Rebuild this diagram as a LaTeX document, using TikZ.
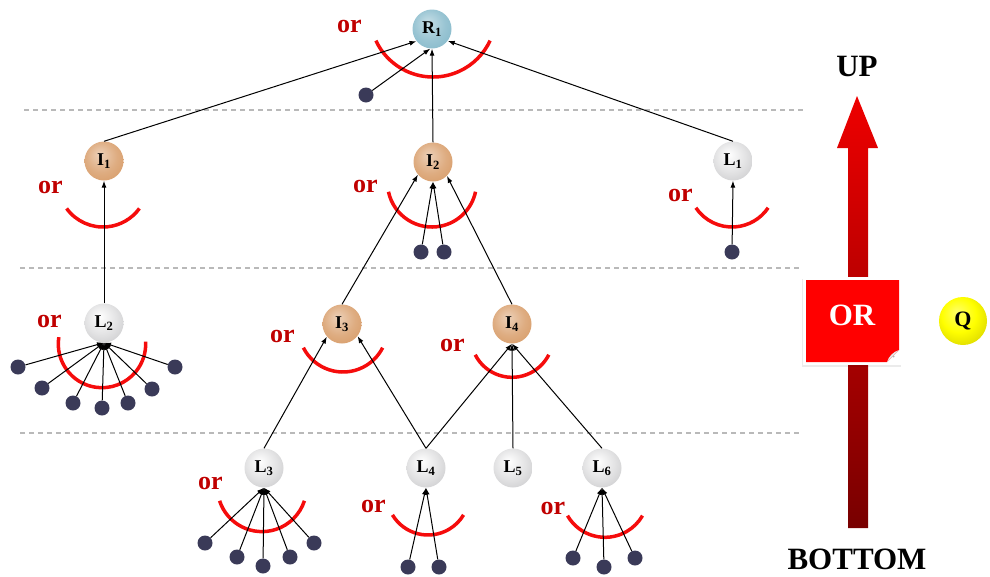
\documentclass[tikz,border=0pt]{standalone}
\usepackage{fontspec}
\setmainfont{Liberation Serif}
\usetikzlibrary{arrows.meta,shadows}

\definecolor{orred}{RGB}{192,0,0}
\definecolor{arcred}{RGB}{245,12,12}
\definecolor{dotc}{RGB}{58,58,88}
\definecolor{colR}{RGB}{128,182,200}
\definecolor{colI}{RGB}{214,152,98}
\definecolor{colL}{RGB}{198,198,200}
\definecolor{colQ}{RGB}{235,230,0}

\pgfdeclareradialshading{shR}{\pgfpoint{-6bp}{9bp}}{color(0bp)=(colR!45!white); color(20bp)=(colR!80!white); color(38bp)=(colR); color(50bp)=(colR!85!black)}
\pgfdeclareradialshading{shI}{\pgfpoint{-6bp}{9bp}}{color(0bp)=(colI!45!white); color(20bp)=(colI!80!white); color(38bp)=(colI); color(50bp)=(colI!85!black)}
\pgfdeclareradialshading{shL}{\pgfpoint{-6bp}{9bp}}{color(0bp)=(white); color(20bp)=(colL!50!white); color(38bp)=(colL); color(50bp)=(colL!80!black)}
\pgfdeclareradialshading{shQ}{\pgfpoint{-7bp}{10bp}}{color(0bp)=(yellow!60!white); color(18bp)=(yellow); color(36bp)=(colQ!90!black); color(50bp)=(colQ!60!black)}

\tikzset{
  ball/.style={circle, minimum size=39pt, inner sep=0pt, font=\fontsize{18}{18}\selectfont\bfseries},
  rnode/.style={ball, shading=shR},
  inode/.style={ball, shading=shI},
  lnode/.style={ball, shading=shL},
  dotn/.style={circle, fill=dotc, minimum size=15pt, inner sep=0pt},
  conn/.style={-{Latex[length=7pt,width=5pt]}, line width=1pt, draw=black},
  orarc/.style={line width=3.5pt, draw=arcred},
  ortext/.style={inner sep=0pt, text=orred, font=\fontsize{26}{26}\selectfont\bfseries},
  sepline/.style={draw=gray!55, dash pattern=on 5pt off 4pt, line width=1.1pt},
  bigtext/.style={inner sep=0pt, font=\fontsize{31}{31}\selectfont\bfseries},
}
\newcommand\myarc[5]{\draw[orarc] ([shift={(#4:#3)}]#1,#2) arc[start angle=#4, end angle=#5, radius=#3];}

\begin{document}
\begin{tikzpicture}[x=1pt,y=1pt]
\useasboundingbox (0,0) rectangle (990,-576);

% separators
\draw[sepline] (24,-110) -- (805,-110);
\draw[sepline] (20,-268) -- (800,-268);
\draw[sepline] (20,-433) -- (800,-433);

% nodes
\node[rnode] (R1) at (432,-29) {R\textsubscript{1}};
\node[inode] (I1) at (104,-161) {I\textsubscript{1}};
\node[inode] (I2) at (433,-162) {I\textsubscript{2}};
\node[lnode] (L1) at (733,-161) {L\textsubscript{1}};
\node[lnode] (L2) at (104,-323) {L\textsubscript{2}};
\node[inode] (I3) at (342,-324) {I\textsubscript{3}};
\node[inode] (I4) at (512,-324) {I\textsubscript{4}};
\node[lnode] (L3) at (264,-468) {L\textsubscript{3}};
\node[lnode] (L4) at (426,-468) {L\textsubscript{4}};
\node[lnode] (L5) at (513,-468) {L\textsubscript{5}};
\node[lnode] (L6) at (602,-468) {L\textsubscript{6}};

% or arcs
\myarc{433}{-14}{63}{205}{335}
\myarc{103}{-182}{45}{216}{324}
\myarc{432}{-182.5}{44.5}{192}{348}
\myarc{732}{-183.4}{43.6}{214}{326}
\myarc{102}{-344}{43.7}{171}{363}
\myarc{343}{-327.5}{44.5}{207}{333}
\myarc{512}{-336}{41.3}{207}{333}
\myarc{262}{-487}{44.6}{198}{342}
\myarc{428}{-493.5}{41.5}{211}{329}
\myarc{605}{-494}{43.3}{210}{330}

% or labels
\node[ortext] (orR1) at (349.5,-26.5) {or};
\node[ortext] (orI1) at (50.5,-187) {or};
\node[ortext] (orI2) at (365.5,-186.5) {or};
\node[ortext] (orL1) at (680.5,-195) {or};
\node[ortext] (orL2) at (49.5,-321.5) {or};
\node[ortext] (orI3) at (282.5,-336.5) {or};
\node[ortext] (orI4) at (452.5,-345) {or};
\node[ortext] (orL3) at (210.5,-483.5) {or};
\node[ortext] (orL4) at (373.5,-506.5) {or};
\node[ortext] (orL6) at (553,-508) {or};

% main connectors
\draw[conn] (I1.north) -- (R1.218);
\draw[conn] (I2.north) -- (R1.south);
\draw[conn] (L1.north) -- (R1.-37);
\draw[conn] (L2.north) -- (I1.south);
\draw[conn] (I3.north) -- (I2.220);
\draw[conn] (I4.north) -- (I2.-45);
\draw[conn] (L3.north) -- (I3.220);
\draw[conn] (L4.north) -- (I3.-38);
\draw[conn] (L4.north) -- (I4.south);
\draw[conn] (L5.north) -- (I4.south);
\draw[conn] (L6.north) -- (I4.south);

% leaf dots
\node[dotn] (r1d) at (366,-95) {};
\draw[conn] (r1d) -- (R1.265);
\foreach \x/\y [count=\i] in {421/252,444/252} {
  \node[dotn] (i2d\i) at (\x,-\y) {};
  \draw[conn] (i2d\i) -- (I2.south);
}
\node[dotn] (l1d) at (732,-252) {};
\draw[conn] (l1d) -- (L1.south);
\foreach \x/\y [count=\i] in {18/367,42/388,73/403,102/408,128/403,152/389,175/367} {
  \node[dotn] (l2d\i) at (\x,-\y) {};
  \draw[conn] (l2d\i) -- (L2.south);
}
\foreach \x/\y [count=\i] in {205/543,237/557,263/566,290/557,314/543} {
  \node[dotn] (l3d\i) at (\x,-\y) {};
  \draw[conn] (l3d\i) -- (L3.south);
}
\foreach \x/\y [count=\i] in {408/567,439/567} {
  \node[dotn] (l4d\i) at (\x,-\y) {};
  \draw[conn] (l4d\i) -- (L4.south);
}
\foreach \x/\y [count=\i] in {573/558,604/567,635/558} {
  \node[dotn] (l6d\i) at (\x,-\y) {};
  \draw[conn] (l6d\i) -- (L6.south);
}

% big red arrow
\shade[top color={rgb,255:red,238;green,0;blue,0}, bottom color={rgb,255:red,120;green,0;blue,0}]
  (857,-96) -- (878,-148) -- (868,-148) -- (868,-528) -- (848,-528) -- (848,-148) -- (837,-148) -- cycle;
\node[bigtext] (up) at (857,-66) {UP};
\node[bigtext] (bottom) at (857,-559) {BOTTOM};

% OR box
\fill[black, opacity=0.08] (801.5,-279) rectangle (900.5,-367);
\fill[white] (803,-277) rectangle (902,-365);
\fill[red] (806,-280) -- (899,-280) -- (899,-350) -- (887,-362) -- (806,-362) -- cycle;
\fill[gray!20] (899,-350) -- (887,-362) .. controls (889,-356) and (893,-352) .. cycle;
\fill[gray!60] (893.5,-356.5) circle (1pt);
\node[inner sep=0pt, text=white, font=\fontsize{31}{31}\selectfont\bfseries] (ortxt) at (852,-315) {OR};

% Q ball
\node[circle, minimum size=48pt, inner sep=0pt, shading=shQ, font=\fontsize{22}{22}\selectfont\bfseries] (Q) at (963,-321) {Q};
\end{tikzpicture}
\end{document}
